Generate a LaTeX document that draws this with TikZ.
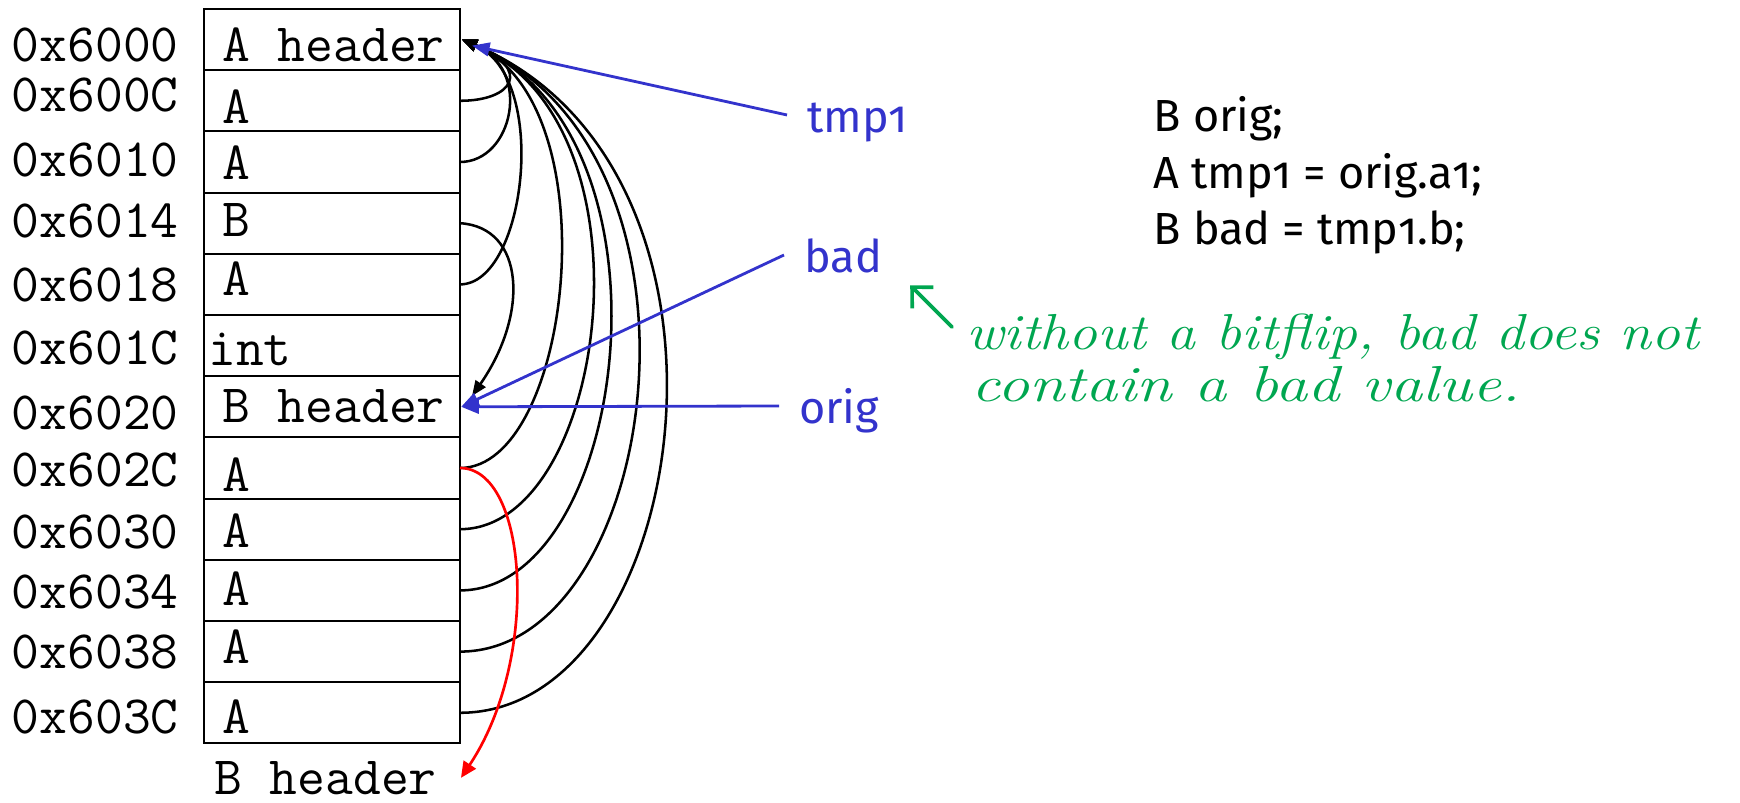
\documentclass[tikz,border=0pt]{standalone}
\usepackage{fontspec}
\newfontfamily\labelfont{Fira Sans}[Numbers=OldStyle]
\usepackage{xcolor}
\usepackage{graphicx}
\usetikzlibrary{positioning, arrows.meta}
\definecolor{ptrblue}{RGB}{51,51,204}
\definecolor{notegreen}{RGB}{0,166,80}
\tikzstyle{ref} = [-{Triangle[length=0.38cm, width=0.3cm]}, line width=1.8pt]
\tikzstyle{varref} = [-{Triangle[length=0.44cm, width=0.34cm]}, line width=2pt, color=ptrblue]
\tikzstyle{badref} = [-{Triangle[length=0.4cm, width=0.36cm]}, line width=1.9pt, color=red]
\tikzstyle{hand} = [-{Straight Barb[length=0.38cm, width=0.75cm]}, line width=2.6pt, line cap=round, color=notegreen]

\begin{document}
\begin{tikzpicture}[
    cell/.style={rectangle, draw, line width=1.4pt, minimum width=6.4cm, minimum height=1.53cm, inner sep=0pt, outer sep=0pt},
    cellt/.style={anchor=base west, inner sep=0pt, font=\ttfamily\fontsize{38.4}{40}\selectfont},
    code/.style={anchor=base west, inner sep=0pt, font=\labelfont\fontsize{32}{38}\selectfont},
    var/.style={anchor=base west, inner xsep=0.5cm, inner ysep=0pt, text height=0.9cm, text depth=0pt, text=ptrblue, font=\labelfont\fontsize{32}{38}\selectfont},
    note/.style={anchor=base west, inner sep=0pt, text=notegreen, font=\itshape\fontsize{36}{40}\selectfont}
]
    \useasboundingbox (0,0) rectangle (43.5,-20.075);

    % Memory cells, top to bottom
    \node[cell, anchor=north west] (m0) at (5.1,-0.225) {};
    \node[cell, below=0pt of m0] (m1) {};
    \node[cell, below=0pt of m1] (m2) {};
    \node[cell, below=0pt of m2] (m3) {};
    \node[cell, below=0pt of m3] (m4) {};
    \node[cell, below=0pt of m4] (m5) {};
    \node[cell, below=0pt of m5] (m6) {};
    \node[cell, below=0pt of m6] (m7) {};
    \node[cell, below=0pt of m7] (m8) {};
    \node[cell, below=0pt of m8] (m9) {};
    \node[cell, below=0pt of m9] (m10) {};
    \node[cell, below=0pt of m10] (m11) {};

    % Cell contents
    \node[cellt] (t0) at ([shift={(0.45,-1.32)}]m0.north west) {A header};
    \node[cellt] (t1) at ([shift={(0.45,-1.33)}]m1.north west) {A};
    \node[cellt] (t2) at ([shift={(0.45,-1.215)}]m2.north west) {A};
    \node[cellt] (t3) at ([shift={(0.45,-1.10)}]m3.north west) {B};
    \node[cellt] (t4) at ([shift={(0.45,-1.055)}]m4.north west) {A};
    \node[cellt] (t5) at ([shift={(0.1,-1.27)}]m5.north west) {int};
    \node[cellt] (t6) at ([shift={(0.45,-1.15)}]m6.north west) {B header};
    \node[cellt] (t7) at ([shift={(0.45,-1.36)}]m7.north west) {A};
    \node[cellt] (t8) at ([shift={(0.45,-1.21)}]m8.north west) {A};
    \node[cellt] (t9) at ([shift={(0.45,-1.135)}]m9.north west) {A};
    \node[cellt] (t10) at ([shift={(0.45,-1.06)}]m10.north west) {A};
    \node[cellt] (t11) at ([shift={(0.45,-1.28)}]m11.north west) {A};
    \node[cellt] (nexthdr) at ([shift={(0.25,-1.27)}]m11.south west) {B header};

    % Addresses
    \node[cellt] (a0) at ([shift={(-4.81,-1.3175)}]m0.north west) {0x6000};
    \node[cellt] (a1) at ([shift={(-4.81,-1.0375)}]m1.north west) {0x600C};
    \node[cellt] (a2) at ([shift={(-4.81,-1.1325)}]m2.north west) {0x6010};
    \node[cellt] (a3) at ([shift={(-4.81,-1.1175)}]m3.north west) {0x6014};
    \node[cellt] (a4) at ([shift={(-4.81,-1.1975)}]m4.north west) {0x6018};
    \node[cellt] (a5) at ([shift={(-4.81,-1.25)}]m5.north west) {0x601C};
    \node[cellt] (a6) at ([shift={(-4.81,-1.3275)}]m6.north west) {0x6020};
    \node[cellt] (a7) at ([shift={(-4.81,-1.2325)}]m7.north west) {0x602C};
    \node[cellt] (a8) at ([shift={(-4.81,-1.2425)}]m8.north west) {0x6030};
    \node[cellt] (a9) at ([shift={(-4.81,-1.2125)}]m9.north west) {0x6034};
    \node[cellt] (a10) at ([shift={(-4.81,-1.1825)}]m10.north west) {0x6038};
    \node[cellt] (a11) at ([shift={(-4.81,-1.2775)}]m11.north west) {0x603C};

    % Code on the right
    \node[code] (c1) at (28.84,-3.29) {B orig;};
    \node[code] (c2) at ([yshift=-1.4175cm]c1.base west) {A tmp1 = orig.a1;};
    \node[code] (c3) at ([yshift=-1.4175cm]c2.base west) {B bad = tmp1.b;};

    % Variables
    \node[var] (tmp1) at (19.675,-3.325) {tmp1};
    \node[var] (bad) at (19.6,-6.825) {bad};
    \node[var] (orig) at (19.475,-10.6) {orig};

    % Arrow targets at the headers
    \coordinate (hdrA) at ([xshift=0.05cm]m0.east);
    \coordinate (hdrB) at ([shift={(0.3,0.27)}]m6.east);
    \coordinate (tmpA) at ([shift={(0.3,-0.15)}]m0.east);
    \coordinate (origB) at ([xshift=0.03cm]m6.east);

    % Pointers to A header
    \draw[ref] (m1.east) .. controls +(1.325,0) and +(1.77,-0.75) .. (hdrA);
    \draw[ref] (m2.east) .. controls +(1.325,0) and +(1.77,-0.75) .. (hdrA);
    \draw[ref] (m4.east) .. controls +(1.65,0) and +(2.2,-0.94) .. (hdrA);
    \draw[ref] (m7.east) .. controls +(2.8,0) and +(3.75,-1.6) .. (hdrA);
    \draw[ref] (m8.east) .. controls +(3.7,0) and +(4.97,-2.1) .. (hdrA);
    \draw[ref] (m9.east) .. controls +(4.2,0) and +(5.63,-2.4) .. (hdrA);
    \draw[ref] (m10.east) .. controls +(5.0,0) and +(6.7,-2.85) .. (hdrA);
    \draw[ref] (m11.east) .. controls +(5.78,0) and +(7.73,-3.28) .. (hdrA);
    % Pointer to B header
    \draw[ref] (m3.east) .. controls +(1.625,-0.1) and +(1.43,2.05) .. (hdrB);
    % Wrong pointer
    \draw[badref] (m7.east) .. controls +(1.7,0) and +(2.0,3.0) .. ([xshift=0.6cm]nexthdr.east);

    % Variables to objects
    \draw[varref] (tmp1.west) -- (tmpA);
    \draw[varref] (bad.west) -- (origB);
    \draw[varref] (orig.west) -- (origB);

    % Handwritten note
    \node[note] (note1) at (24.15,-8.75) {\scalebox{1.14}[1]{without a bitflip, bad does not}};
    \node[note] (note2) at (24.275,-10.05) {\scalebox{1.27}[1]{contain a bad value.}};
    \coordinate (notetail) at ([shift={(-0.35,0.575)}]note1.base west);
    \draw[hand] (notetail) -- ([shift={(0.2,-0.3)}]bad.south east);

\end{tikzpicture}
\end{document}
